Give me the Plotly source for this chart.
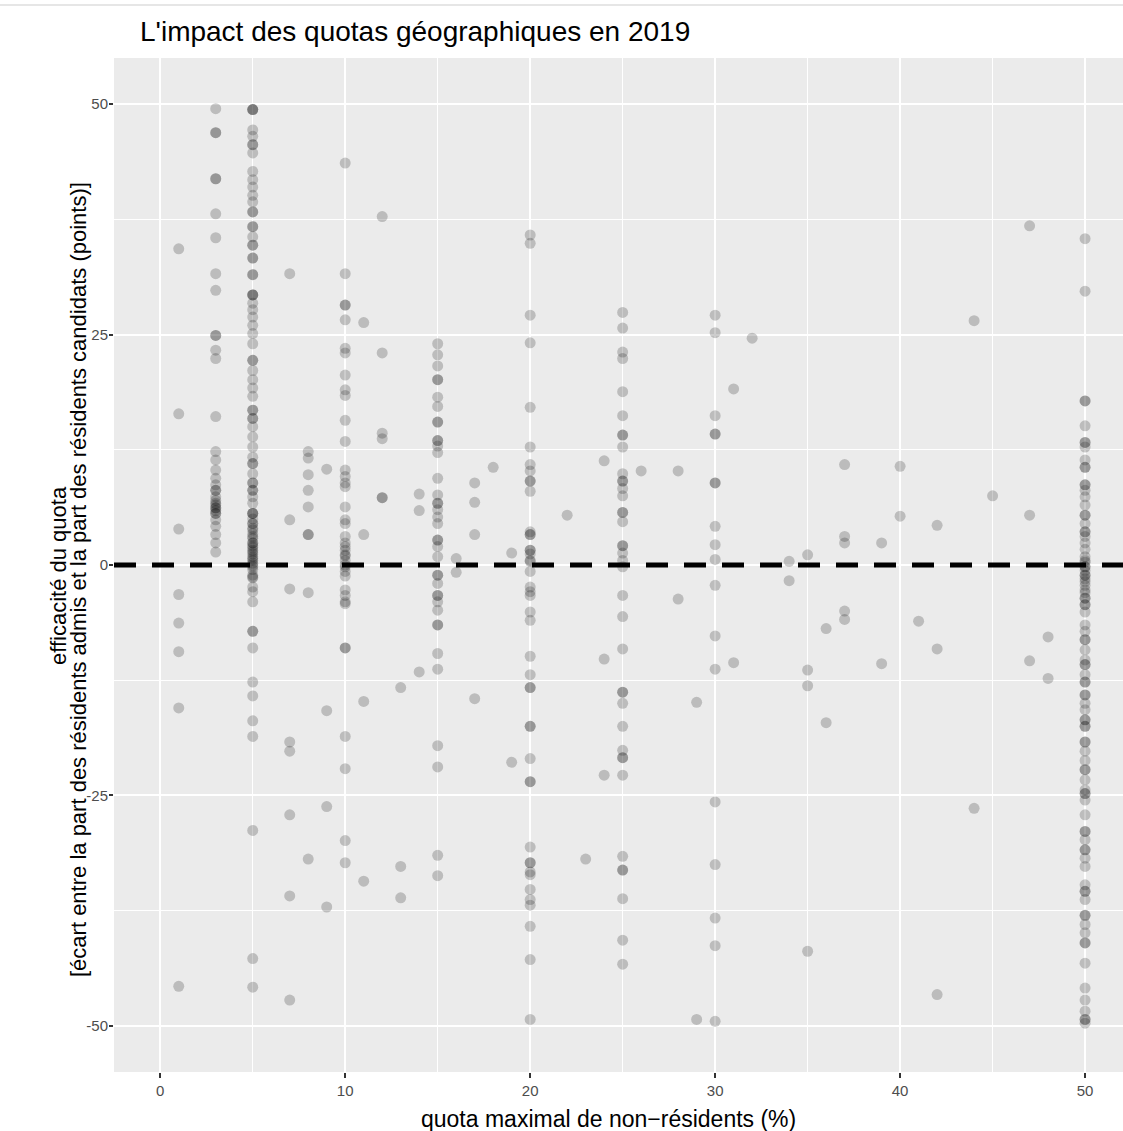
import plotly.graph_objects as go

# quota maximal de non-résidents (%) -> efficacité du quota (points)
q1 = [34.3, 16.4, 3.9, -3.2, -6.3, -9.4, -15.5, -45.7]
q3 = [49.5, 46.9, 46.9, 41.9, 41.9, 38.1, 35.5, 31.6, 29.8, 24.9, 24.9, 23.3, 22.4,
      16.1, 12.3, 11.4, 10.3, 9.4, 8.7, 8.1, 8.1, 7.4, 7.0, 6.7, 6.5, 6.2, 6.2, 5.9,
      5.6, 5.6, 4.9, 4.2, 3.3, 2.4, 1.4]
q5 = [49.4, 49.4, 49.4, 47.2, 46.5, 45.6, 45.6, 44.7, 42.7, 41.8, 41.0, 40.1, 39.4,
      38.3, 38.3, 36.7, 36.7, 35.6, 34.7, 34.7, 33.3, 33.3, 31.5, 31.5, 29.3, 29.3,
      29.3, 28.4, 27.7, 26.9, 26.0, 25.1, 24.0, 22.2, 22.2, 21.1, 20.1, 19.2, 18.3,
      16.8, 16.8, 15.9, 15.9, 15.0, 13.9, 12.8, 11.7, 11.0, 11.0, 9.9, 8.9, 8.9, 8.1,
      8.1, 7.4, 6.7, 5.6, 5.6, 5.6, 5.0, 4.5, 4.5, 4.0, 3.8, 3.4, 3.1, 2.9, 2.4, 2.4,
      2.1, 1.9, 1.6, 1.4, 1.2, 0.9, 0.7, 0.5, 0.2, 0.0, -0.2, -0.5, -1.1, -1.3, -1.4,
      -2.4, -2.9, -4.0, -7.2, -7.2, -9.0, -12.7, -14.2, -16.9, -18.6, -28.8, -42.7,
      -45.8]
q7 = [31.6, 4.9, -2.6, -19.2, -20.2, -27.1, -35.9, -47.2]
q8 = [12.3, 11.6, 9.8, 8.1, 6.3, 3.3, 3.3, -3.0, -31.9]
q9 = [10.4, -15.8, -26.2, -37.1]
q10 = [43.6, 31.6, 28.2, 28.2, 26.6, 23.5, 23.0, 20.6, 19.0, 18.4, 15.7, 13.4, 10.3,
       9.6, 8.9, 8.5, 6.3, 4.9, 4.5, 3.1, 2.4, 2.0, 1.6, 1.1, 1.0, 0.5, 0.0, -0.2,
       -0.7, -1.2, -2.7, -3.3, -4.0, -4.2, -9.0, -9.0, -18.6, -22.1, -29.9, -32.3]
q11 = [26.3, 3.3, -14.8, -34.3]
q12 = [37.8, 23.0, 14.3, 13.7, 7.3, 7.3]
q13 = [-13.3, -32.7, -36.1]
q14 = [7.7, 5.9, -11.6]
q15 = [24.0, 22.8, 21.6, 20.1, 20.1, 18.2, 17.2, 15.5, 15.5, 13.5, 13.5, 12.9, 12.2,
       9.4, 7.6, 6.7, 6.7, 6.0, 5.2, 4.5, 2.7, 2.7, 2.0, 0.9, -1.1, -1.1, -2.0, -3.3,
       -3.3, -4.0, -4.9, -6.5, -6.5, -9.6, -11.3, -19.6, -21.9, -31.5, -33.7]
q16 = [0.7, -0.8]
q17 = [8.9, 6.8, 3.3, -14.5]
q18 = [10.6]
q19 = [1.3, -21.4]
q20 = [35.8, 34.9, 27.1, 24.1, 17.1, 12.8, 10.9, 10.2, 9.1, 9.1, 8.0, 3.6, 3.3, 3.3,
       1.6, 1.6, 1.2, 0.5, 0.4, -0.7, -2.4, -2.9, -3.3, -5.1, -6.0, -9.9, -11.9,
       -13.3, -13.3, -17.5, -17.5, -21.0, -23.5, -23.5, -30.6, -32.3, -32.3, -33.3,
       -33.6, -35.2, -36.3, -36.9, -39.2, -42.8, -49.3]
q22 = [5.4]
q23 = [-31.9]
q24 = [11.3, -10.2, -22.8]
q25 = [27.4, 25.7, 23.1, 22.4, 18.8, 16.2, 14.1, 14.1, 12.8, 9.9, 9.1, 9.1, 8.3, 7.5,
       5.7, 5.7, 4.7, 2.1, 2.1, 1.3, 0.5, -0.2, -3.3, -5.6, -9.1, -13.8, -13.8, -15.0,
       -17.5, -20.1, -20.9, -20.9, -22.8, -31.6, -33.1, -33.1, -36.2, -40.7, -43.3]
q26 = [10.2]
q28 = [10.2, -3.7]
q29 = [-14.9, -49.3]
q30 = [27.1, 25.2, 16.2, 14.2, 14.2, 8.9, 8.9, 4.2, 2.2, 0.6, -2.2, -7.7, -11.3,
       -25.7, -32.5, -38.3, -41.3, -49.5]
q31 = [19.1, -10.6]
q32 = [24.6]
q34 = [0.4, -1.7]
q35 = [1.1, -11.4, -13.1, -41.9]
q36 = [-6.9, -17.1]
q37 = [10.9, 3.1, 2.4, -5.0, -5.9]
q39 = [2.4, -10.7]
q40 = [10.7, 5.3]
q41 = [-6.1]
q42 = [4.3, -9.1, -46.6]
q44 = [26.5, -26.4]
q45 = [7.5]
q47 = [36.8, 5.4, -10.4]
q48 = [-7.8, -12.3]
q50 = [35.4, 29.7, 17.8, 17.8, 15.1, 13.3, 13.3, 12.8, 11.4, 10.6, 10.6, 8.7, 8.7,
       8.1, 7.4, 6.5, 5.4, 5.4, 4.5, 3.6, 3.6, 3.1, 2.4, 1.7, 0.9, 0.5, 0.3, -0.2,
       -0.2, -0.6, -1.1, -1.1, -1.5, -1.8, -2.2, -2.7, -3.0, -3.6, -3.6, -4.3, -4.3,
       -5.1, -6.5, -7.2, -8.1, -8.1, -9.2, -10.3, -10.8, -10.8, -11.9, -12.7, -12.7,
       -14.1, -14.1, -15.0, -15.7, -16.8, -16.8, -17.5, -17.5, -19.2, -19.2, -20.2,
       -21.2, -22.2, -22.2, -23.3, -24.4, -24.8, -24.8, -25.5, -27.1, -28.9, -28.9,
       -29.8, -30.9, -30.9, -31.8, -32.7, -34.7, -35.4, -35.4, -36.3, -38.0, -38.0,
       -39.0, -39.9, -41.0, -41.0, -43.2, -45.9, -47.2, -48.4, -49.3, -49.3, -49.7]

groups = [(1, q1), (3, q3), (5, q5), (7, q7), (8, q8), (9, q9), (10, q10), (11, q11),
          (12, q12), (13, q13), (14, q14), (15, q15), (16, q16), (17, q17), (18, q18),
          (19, q19), (20, q20), (22, q22), (23, q23), (24, q24), (25, q25), (26, q26),
          (28, q28), (29, q29), (30, q30), (31, q31), (32, q32), (34, q34), (35, q35),
          (36, q36), (37, q37), (39, q39), (40, q40), (41, q41), (42, q42), (44, q44),
          (45, q45), (47, q47), (48, q48), (50, q50)]

xs, ys = [], []
for q, vals in groups:
    xs += [q] * len(vals)
    ys += vals

x_ticks = [0, 10, 20, 30, 40, 50]
y_ticks = [-50, -25, 0, 25, 50]
y_tick_text = ["-50", "-25", "0", "25", "50"]

FONT = "Liberation Sans, Arial, sans-serif"
L, T, B = 114, 58, 59
PW, PH = 1123 - L, 1131 - T - B

fig = go.Figure()
fig.add_trace(go.Scatter(
    x=xs, y=ys, mode="markers",
    marker=dict(color="rgba(0,0,0,0.2)", size=11, line=dict(width=0)),
    hoverinfo="x+y", showlegend=False,
))

fig.add_shape(type="line", xref="paper", yref="y", x0=0, x1=1, y0=0, y1=0,
              line=dict(color="black", width=5, dash="22px,16px"), layer="above")
# thin light rule at the very top of the image
fig.add_shape(type="line", xref="paper", yref="paper", x0=-L / PW, x1=1,
              y0=1 + (T - 5) / PH, y1=1 + (T - 5) / PH, line=dict(color="#E6E6E6", width=2))

tick_font = dict(size=15, color="#4D4D4D", family=FONT)
fig.update_layout(
    width=1123, height=1131,
    margin=dict(l=L, r=0, t=T, b=B),
    paper_bgcolor="white", plot_bgcolor="#EBEBEB",
    font=dict(family=FONT, color="black"),
    title=dict(text="L'impact des quotas géographiques en 2019",
               x=140 / 1123, xref="container", xanchor="left",
               y=1 - 31 / 1131, yref="container", yanchor="middle",
               font=dict(size=28, color="black", family=FONT)),
    xaxis=dict(range=[-2.5, 52.05], tickvals=x_ticks, ticktext=[str(v) for v in x_ticks],
               showgrid=True, gridcolor="white", gridwidth=2.2,
               minor=dict(dtick=5, tick0=0, showgrid=True, gridcolor="white", gridwidth=1.1),
               zeroline=False, showline=False,
               ticks="outside", ticklen=5, tickwidth=1.5, tickcolor="#333333",
               tickfont=tick_font),
    yaxis=dict(range=[-55, 55], tickvals=y_ticks, ticktext=y_tick_text,
               showgrid=True, gridcolor="white", gridwidth=2.2,
               minor=dict(dtick=12.5, tick0=0, showgrid=True, gridcolor="white", gridwidth=1.1),
               zeroline=False, showline=False,
               ticks="outside", ticklen=4, tickwidth=1.5, tickcolor="#333333",
               ticklabelstandoff=-2, tickfont=tick_font),
    annotations=[
        dict(text="quota maximal de non\u2212résidents (%)", xref="paper", yref="paper",
             x=(608 - L) / PW, y=-47 / PH, xanchor="center", yanchor="middle",
             showarrow=False, font=dict(size=23, color="black", family=FONT)),
        dict(text="efficacité du quota", xref="paper", yref="paper",
             x=(58 - L) / PW, y=(1072 - 576) / PH, xanchor="center", yanchor="middle",
             textangle=-90, showarrow=False, font=dict(size=22, color="black", family=FONT)),
        dict(text="[écart entre la part des résidents admis et la part des résidents candidats (points)]",
             xref="paper", yref="paper",
             x=(78 - L) / PW, y=(1072 - 580) / PH, xanchor="center", yanchor="middle",
             textangle=-90, showarrow=False, font=dict(size=22, color="black", family=FONT)),
    ],
)

fig.write_html("out.html")
